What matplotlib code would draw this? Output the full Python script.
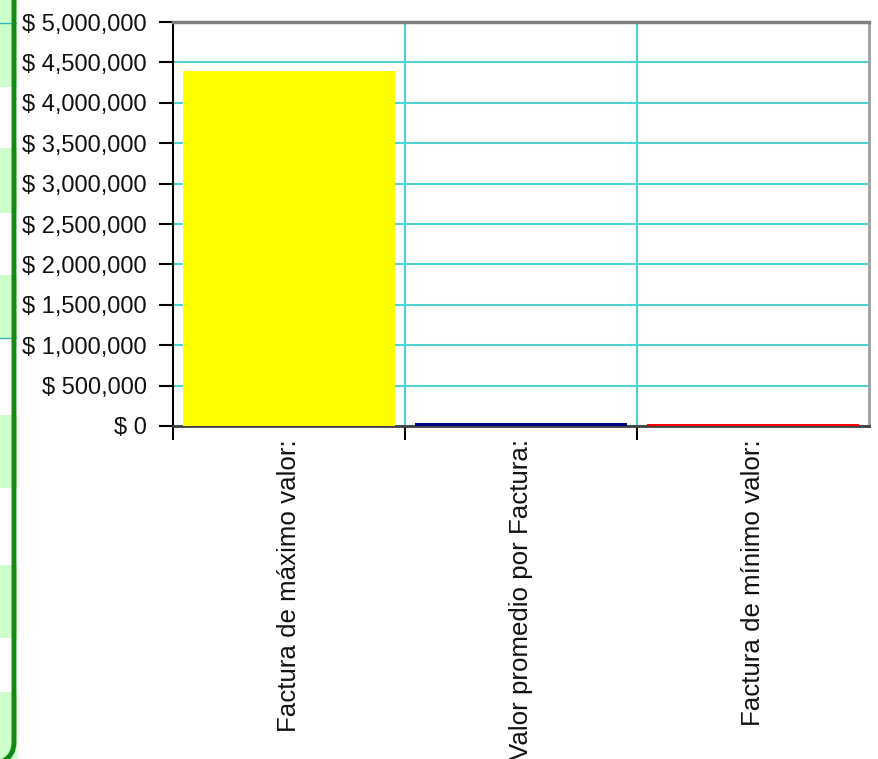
import matplotlib
matplotlib.use('Agg')
from matplotlib import pyplot as plt
from matplotlib.patches import Rectangle, PathPatch
from matplotlib.path import Path
from matplotlib.lines import Line2D
from matplotlib.ticker import FuncFormatter, MultipleLocator

categories = ['Factura de máximo valor:', 'Valor promedio por Factura:', 'Factura de mínimo valor:']
values = [4390000, 42000, 20000]
colors = ['#FFFF00', '#000080', '#FF0000']

plt.rcParams['font.family'] = ['Liberation Sans', 'DejaVu Sans']

W, H = 879, 759
fig = plt.figure(figsize=(W / 100, H / 100), dpi=100)


def fx(px):
    return px / W


def fy(py):
    return 1 - py / H


# spreadsheet remains on the left edge
for y0, y1 in [(0, 87), (148, 213), (275, 338), (415, 488), (565, 638), (692, 759)]:
    fig.patches.append(Rectangle((0, fy(y1)), fx(17), fy(y0) - fy(y1),
                                 transform=fig.transFigure, facecolor='#CCFFCC',
                                 edgecolor='none', zorder=0))
for yy in [23, 338]:
    fig.lines.append(Line2D([0, fx(16)], [fy(yy), fy(yy)], transform=fig.transFigure,
                            color='#33BBBB', lw=1))
verts = [(fx(14), fy(-5)), (fx(14), fy(742)), (fx(14), fy(756)), (fx(3), fy(761))]
codes = [Path.MOVETO, Path.LINETO, Path.CURVE3, Path.CURVE3]
fig.patches.append(PathPatch(Path(verts, codes), transform=fig.transFigure,
                             facecolor='none', edgecolor='#138A13', lw=3.5, zorder=2))

ax = fig.add_axes([fx(173), fy(426), fx(869) - fx(173), fy(22) - fy(426)])
x = range(len(categories))
ax.bar(x, values, width=0.91, color=colors, zorder=4)
ax.set_xlim(-0.5, 2.5)
ax.set_ylim(0, 5000000)

ax.yaxis.set_major_locator(MultipleLocator(500000))
ax.yaxis.set_major_formatter(FuncFormatter(lambda v, p: '$ {:,.0f}'.format(v)))
ax.grid(axis='y', color='#4FD3D3', lw=1.5, zorder=1)
for b in [0.5, 1.5]:
    ax.axvline(b, color='#4FD3D3', lw=1.5, zorder=1)

ax.set_xticks([-0.5, 0.5, 1.5])
ax.set_xticklabels([])
for i, lab in enumerate(categories):
    ax.annotate(lab, xy=(i, 0), xycoords='data', xytext=(0, -13), textcoords='offset pixels',
                rotation=90, ha='center', va='top', fontsize=18.6, color='#111111',
                annotation_clip=False)

ax.tick_params(axis='y', direction='out', length=10, width=1.5, pad=9, labelsize=17,
               colors='black', labelcolor='#111111')
ax.tick_params(axis='x', direction='out', length=10, width=1.5, colors='black')

ax.spines['left'].set_color('black')
ax.spines['left'].set_linewidth(1.5)
ax.spines['top'].set_color('#808080')
ax.spines['top'].set_linewidth(2.5)
ax.spines['right'].set_color('#A0A0A0')
ax.spines['right'].set_linewidth(2)
ax.spines['bottom'].set_color('#404040')
ax.spines['bottom'].set_linewidth(2)

fig.savefig('out.png', dpi=100)
